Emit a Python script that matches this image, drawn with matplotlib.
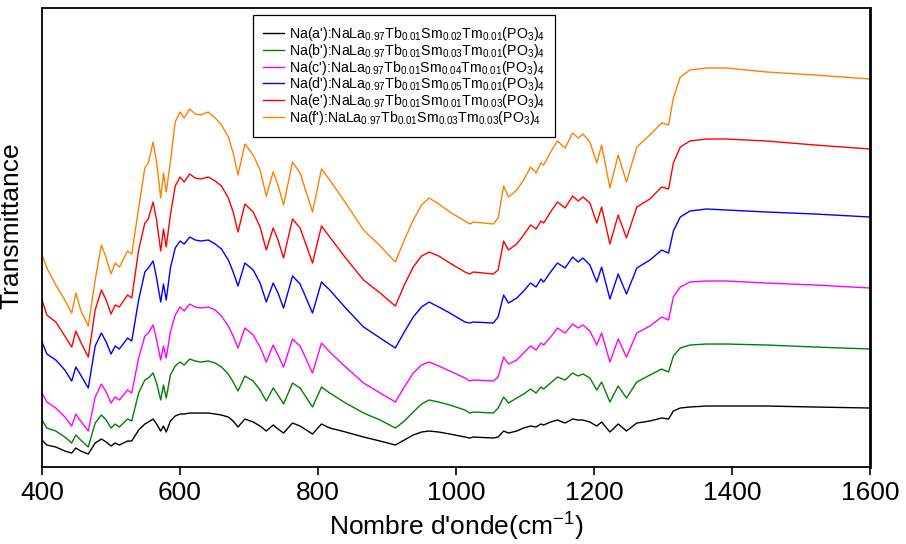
import matplotlib
matplotlib.use("Agg")
import matplotlib.pyplot as plt

plt.rcParams['font.family'] = ['Liberation Sans', 'DejaVu Sans']
plt.rcParams['mathtext.fontset'] = 'custom'
plt.rcParams['mathtext.rm'] = 'Liberation Sans'
plt.rcParams['mathtext.it'] = 'Liberation Sans'
plt.rcParams['mathtext.default'] = 'regular'

# wavenumbers (cm-1) of the points
wavenumber = [400, 407, 420, 433, 443, 449, 456, 467, 477, 486,
              493, 500, 506, 512, 524, 530, 540, 549, 554, 561,
              566, 572, 576, 580, 586, 593, 600, 606, 614, 622,
              630, 641, 651, 660, 670, 677, 684, 694, 706, 716,
              725, 735, 742, 750, 763, 774, 792, 805, 817, 840,
              866, 890, 912, 925, 938, 950, 961, 975, 991, 1013,
              1020, 1025, 1054, 1061, 1069, 1076, 1088, 1098, 1108, 1116,
              1123, 1127, 1137, 1147, 1158, 1169, 1177, 1184, 1194, 1204,
              1211, 1223, 1235, 1247, 1262, 1281, 1298, 1308, 1315, 1325,
              1339, 1363, 1392, 1450, 1520, 1600]

# transmittance (arbitrary units, curves already offset as in the figure)
t_a = [27, 22, 20, 16, 14, 19, 16, 13, 24, 28,
       25, 21, 24, 22, 26, 26, 37, 43, 45, 48,
       43, 36, 41, 35, 46, 51, 53, 53, 54, 54,
       54, 54, 53, 52, 50, 46, 40, 48, 45, 41,
       36, 42, 38, 34, 44, 41, 33, 43, 39, 35,
       30, 26, 22, 27, 32, 35, 36, 35, 33, 30,
       29, 30, 29, 30, 36, 34, 36, 39, 41, 40,
       43, 42, 45, 47, 44, 48, 47, 47, 45, 41,
       45, 35, 43, 36, 44, 46, 49, 48, 56, 59,
       60, 61, 61, 61, 60, 59]
t_b = [47, 39, 36, 30, 24, 32, 27, 20, 44, 52,
       47, 39, 43, 40, 48, 46, 74, 87, 89, 94,
       84, 67, 82, 69, 92, 101, 105, 102, 108, 106,
       105, 106, 104, 100, 93, 85, 76, 91, 86, 77,
       66, 79, 72, 63, 84, 79, 60, 80, 74, 64,
       54, 47, 39, 46, 55, 63, 67, 65, 62, 57,
       54, 55, 54, 59, 70, 64, 69, 73, 78, 74,
       80, 78, 84, 90, 87, 94, 91, 93, 89, 77,
       85, 65, 81, 69, 85, 92, 98, 95, 111, 119,
       122, 123, 123, 122, 120, 118]
t_c = [74, 65, 59, 50, 41, 53, 46, 36, 70, 83,
       75, 64, 70, 67, 77, 74, 109, 131, 134, 142,
       127, 107, 121, 109, 135, 152, 160, 156, 163, 160,
       159, 160, 157, 151, 141, 131, 119, 139, 132, 120,
       105, 122, 112, 100, 128, 121, 94, 124, 115, 100,
       84, 74, 65, 80, 94, 102, 105, 101, 96, 89,
       86, 87, 86, 90, 110, 103, 107, 114, 121, 117,
       124, 122, 130, 139, 134, 143, 139, 142, 136, 122,
       134, 105, 128, 110, 134, 141, 150, 147, 170, 180,
       185, 186, 186, 184, 182, 179]
t_d = [125, 113, 107, 97, 86, 100, 92, 79, 121, 134,
       125, 113, 121, 118, 129, 126, 167, 195, 199, 206,
       189, 165, 183, 167, 199, 219, 226, 223, 230, 227,
       226, 227, 223, 218, 207, 195, 181, 204, 197, 184,
       165, 184, 174, 159, 191, 183, 154, 185, 177, 159,
       140, 129, 119, 135, 150, 160, 165, 160, 154, 145,
       144, 145, 144, 150, 172, 164, 169, 176, 184, 180,
       188, 185, 195, 204, 199, 210, 205, 209, 202, 185,
       200, 168, 193, 173, 199, 207, 217, 214, 236, 250,
       256, 258, 257, 255, 253, 250]
t_e = [167, 152, 145, 131, 120, 136, 125, 110, 157, 177,
       167, 153, 162, 160, 172, 169, 217, 244, 248, 265,
       247, 216, 238, 220, 252, 281, 290, 285, 293, 289,
       288, 290, 286, 281, 269, 255, 235, 263, 255, 240,
       217, 239, 227, 209, 248, 239, 204, 241, 230, 209,
       187, 174, 161, 182, 200, 211, 215, 211, 204, 195,
       193, 195, 193, 197, 226, 217, 223, 232, 242, 238,
       246, 244, 255, 265, 259, 271, 266, 270, 264, 244,
       260, 223, 252, 229, 260, 268, 280, 278, 304, 320,
       326, 328, 328, 326, 322, 318]
t_f = [212, 199, 182, 167, 154, 174, 157, 141, 187, 222,
       209, 193, 204, 200, 216, 213, 259, 299, 304, 325,
       305, 269, 294, 275, 305, 345, 355, 349, 358, 353,
       352, 355, 349, 342, 330, 314, 292, 323, 312, 297,
       271, 295, 282, 262, 305, 294, 255, 298, 287, 264,
       237, 221, 205, 227, 247, 262, 269, 263, 255, 246,
       243, 245, 243, 249, 281, 270, 277, 287, 300, 294,
       304, 302, 315, 326, 319, 334, 329, 333, 325, 304,
       322, 279, 312, 285, 320, 332, 344, 342, 369, 390,
       397, 399, 399, 395, 392, 388]

labels = [
    r"Na(a'):NaLa$_{0.97}$Tb$_{0.01}$Sm$_{0.02}$Tm$_{0.01}$(PO$_3$)$_4$",
    r"Na(b'):NaLa$_{0.97}$Tb$_{0.01}$Sm$_{0.03}$Tm$_{0.01}$(PO$_3$)$_4$",
    r"Na(c'):NaLa$_{0.97}$Tb$_{0.01}$Sm$_{0.04}$Tm$_{0.01}$(PO$_3$)$_4$",
    r"Na(d'):NaLa$_{0.97}$Tb$_{0.01}$Sm$_{0.05}$Tm$_{0.01}$(PO$_3$)$_4$",
    r"Na(e'):NaLa$_{0.97}$Tb$_{0.01}$Sm$_{0.01}$Tm$_{0.03}$(PO$_3$)$_4$",
    r"Na(f'):NaLa$_{0.97}$Tb$_{0.01}$Sm$_{0.03}$Tm$_{0.03}$(PO$_3$)$_4$",
]
colors = ['black', '#008000', '#FF00FF', '#0000FF', '#FF0000', '#FF8000']
series = [t_a, t_b, t_c, t_d, t_e, t_f]

fig = plt.figure(figsize=(9.06, 5.44), dpi=100)
ax = fig.add_axes([0.0464, 0.1415, 0.9139, 0.8438])

for ys, c, lab in zip(series, colors, labels):
    ax.plot(wavenumber, ys, color=c, lw=1.0, label=lab, solid_joinstyle='round')

ax.set_xlim(400, 1600)
ax.set_ylim(0, 459)
ax.set_xticks([400, 600, 800, 1000, 1200, 1400, 1600])
ax.set_yticks([])
ax.tick_params(axis='x', direction='out', length=6, width=1.2, labelsize=19, pad=4)
for s in ax.spines.values():
    s.set_linewidth(1.3)
ax.spines['right'].set_linewidth(2.0)

ax.set_xlabel(r"Nombre d'onde(cm$^{-1}$)", fontsize=19, labelpad=4)
ax.set_ylabel("Transmittance", fontsize=19)
ax.yaxis.set_label_coords(-0.023, 0.525)

leg = ax.legend(loc='upper left', bbox_to_anchor=(0.2548, 0.985), borderaxespad=0,
                fontsize=10.2, handlelength=1.5, handletextpad=0.35,
                labelspacing=-0.08, fancybox=False, framealpha=1, borderpad=0.7)
leg.get_frame().set_edgecolor('black')
leg.get_frame().set_linewidth(0.9)

fig.savefig("out.png", dpi=100)
